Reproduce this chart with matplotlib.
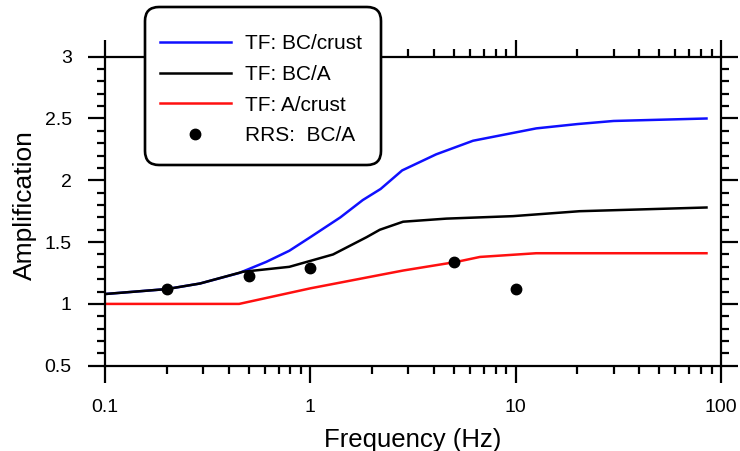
import matplotlib
matplotlib.use("Agg")
import matplotlib.pyplot as plt
from matplotlib.patches import FancyBboxPatch
from matplotlib.ticker import FixedLocator, MultipleLocator, FuncFormatter, LogLocator, NullFormatter

plt.rcParams['font.family'] = ['Liberation Sans', 'DejaVu Sans']

# transfer function BC/crust
freq_bc_crust = [0.1, 0.2, 0.29, 0.45, 0.61, 0.79, 1.0, 1.4, 1.8, 2.2, 2.8, 4.1, 6.2, 12.6, 20, 30, 85]
amp_bc_crust = [1.08, 1.12, 1.165, 1.25, 1.34, 1.43, 1.54, 1.70, 1.84, 1.93, 2.08, 2.21, 2.32, 2.42, 2.455, 2.48, 2.50]

# transfer function BC/A
freq_bc_a = [0.1, 0.2, 0.29, 0.47, 0.79, 1.29, 1.88, 2.18, 2.83, 4.6, 9.7, 20.5, 85]
amp_bc_a = [1.08, 1.12, 1.165, 1.26, 1.30, 1.40, 1.54, 1.60, 1.665, 1.69, 1.71, 1.75, 1.78]

# transfer function A/crust
freq_a_crust = [0.1, 0.45, 1.0, 2.18, 2.83, 5.15, 6.7, 12.6, 85]
amp_a_crust = [1.0, 1.0, 1.126, 1.234, 1.27, 1.34, 1.38, 1.41, 1.41]

# response spectra ratio BC/A
freq_rrs = [0.2, 0.5, 1.0, 5.0, 10.0]
amp_rrs = [1.118, 1.225, 1.288, 1.34, 1.118]

fig = plt.figure(figsize=(7.4, 4.51), dpi=100)
ax = fig.add_axes([0.1419, 0.1891, 0.8324, 0.6852])

l1, = ax.plot(freq_bc_crust, amp_bc_crust, color='#1010ff', lw=1.8)
l2, = ax.plot(freq_bc_a, amp_bc_a, color='black', lw=1.8)
l3, = ax.plot(freq_a_crust, amp_a_crust, color='#ff1010', lw=1.8)
l4, = ax.plot(freq_rrs, amp_rrs, 'o', color='black', ms=7.5, zorder=4)

ax.set_xscale('log')
ax.set_xlim(0.1, 100)
ax.set_ylim(0.5, 3)

ax.xaxis.set_major_locator(FixedLocator([0.1, 1, 10, 100]))
ax.xaxis.set_major_formatter(FuncFormatter(lambda v, p: '%g' % v))
ax.xaxis.set_minor_locator(LogLocator(base=10, subs=range(2, 10), numticks=20))
ax.xaxis.set_minor_formatter(NullFormatter())
ax.yaxis.set_major_locator(MultipleLocator(0.5))
ax.yaxis.set_major_formatter(FuncFormatter(lambda v, p: '%g' % v))
ax.yaxis.set_minor_locator(MultipleLocator(0.1))

ax.tick_params(which='both', direction='out', width=1.6, top=True, right=True,
               labelsize=14, pad=12)
ax.tick_params(which='major', length=12)
ax.tick_params(which='minor', length=6)
for s in ax.spines.values():
    s.set_linewidth(1.6)

ax.set_xlabel('Frequency (Hz)', fontsize=18.5, labelpad=8.5)
ax.set_ylabel('Amplification', fontsize=19)
ax.yaxis.set_label_coords(-0.110, 0.52)

# rounded legend box sitting over the top spine
box = FancyBboxPatch((1.45, 2.86), 2.36, 1.58, boxstyle='round,pad=0,rounding_size=0.14',
                     transform=fig.dpi_scale_trans, facecolor='white', edgecolor='black',
                     lw=1.9, zorder=1)
fig.patches.append(box)

fig.legend([l1, l2, l3, l4], ['TF: BC/crust', 'TF: BC/A', 'TF: A/crust', 'RRS:  BC/A'],
           loc='upper left', bbox_to_anchor=(0.2162, 0.924), frameon=False,
           fontsize=15, handlelength=3.4, handletextpad=0.7, labelspacing=0.56,
           numpoints=1, borderpad=0, borderaxespad=0)

fig.savefig('out.png', dpi=100)
